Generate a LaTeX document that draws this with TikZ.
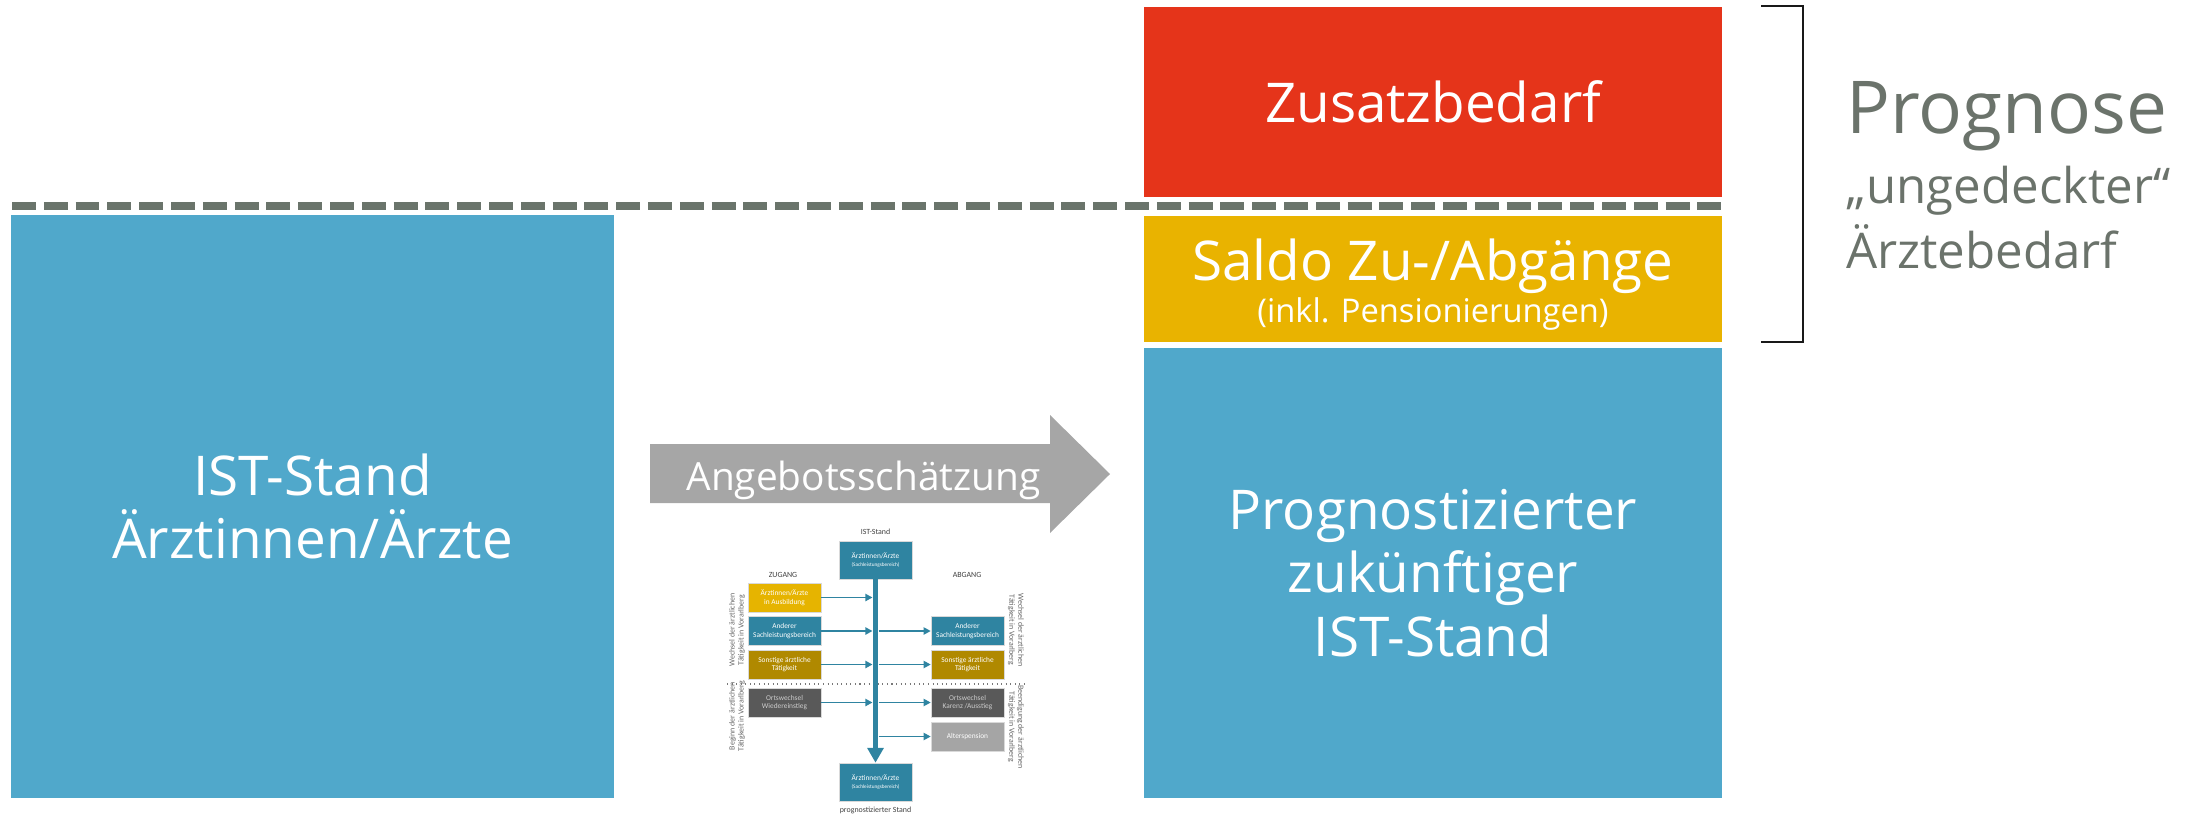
\documentclass[tikz,border=0pt]{standalone}
\usepackage{fontspec}
\setmainfont{Open Sans}
\newfontfamily\smallf{Carlito}
\usetikzlibrary{arrows.meta}
\definecolor{bigblue}{HTML}{50A8CB}
\definecolor{bigred}{HTML}{E5341A}
\definecolor{bigyellow}{HTML}{E9B300}
\definecolor{dashgray}{HTML}{6A746B}
\definecolor{textgray}{HTML}{6B736B}
\definecolor{arrowgray}{HTML}{A6A6A6}
\definecolor{steal}{HTML}{2F84A1}
\definecolor{syellow}{HTML}{E6B400}
\definecolor{sgold}{HTML}{B08900}
\definecolor{sdgray}{HTML}{595959}
\definecolor{slgray}{HTML}{A5A5A5}
\definecolor{slabel}{HTML}{404040}
\begin{document}
\begin{tikzpicture}[x=0.02cm,y=-0.02cm,
  bigbox/.style={draw=none,inner sep=0pt,text=white,align=center,
    font=\fontsize{31.2}{36}\selectfont},
  bigtext/.style={inner sep=0pt,text=white,anchor=base},
  dashline/.style={draw=dashgray,line width=4.5pt,dash pattern=on 13.6pt off 4.5pt},
  bracket/.style={draw=black!90,line width=1.5pt},
  sidetext/.style={inner sep=0pt,text=textgray,anchor=base west},
  sbox/.style={minimum width=1.46cm,minimum height=0.58cm,inner sep=0pt,align=center,
    text=white,draw=white!85!black,line width=0.3pt,
    font=\smallf\fontsize{4.2}{4.9}\selectfont},
  slbl/.style={inner sep=0pt,text=slabel,align=center,font=\smallf\fontsize{4.5}{5.3}\selectfont},
  rlbl/.style={inner sep=0pt,text=slabel!80,align=center,font=\smallf\fontsize{4.5}{5.1}\selectfont},
  spine/.style={draw=steal,line width=3.2pt,-{Triangle[width=9pt,length=8.5pt]}},
  sarrow/.style={draw=steal,line width=1.1pt,-{Triangle[width=4pt,length=4pt]}}
]
\useasboundingbox (0,0) rectangle (2203,815);

% big boxes
\node[bigbox,fill=bigblue,minimum width=12.06cm,minimum height=11.66cm] (ist) at (312.5,506.5)
  {IST-Stand\\Ärztinnen/Ärzte};
\node[bigbox,fill=bigred,minimum width=11.56cm,minimum height=3.8cm] (zusatz) at (1433,102)
  {Zusatzbedarf};
\node[bigbox,fill=bigyellow,minimum width=11.56cm,minimum height=2.52cm] (saldo) at (1433,279) {};
\node[bigtext,font=\fontsize{31.2}{36}\selectfont] (saldoA) at (1433,280) {Saldo Zu-/Abgänge};
\node[bigtext,font=\fontsize{18.6}{22}\selectfont] (saldoB) at (1433,322) {(inkl. Pensionierungen)};
\node[bigbox,fill=bigblue,minimum width=11.56cm,minimum height=9cm] (prog) at (1433,573)
  {Prognostizierter\\zukünftiger\\IST-Stand};

% dashed line
\coordinate (dl) at (12,206);
\coordinate (dr) at (1722,206);
\draw[dashline] (dl) -- (dr);

% bracket
\coordinate (b1) at (1761,6);
\coordinate (b2) at (1803,6);
\coordinate (b3) at (1803,342);
\coordinate (b4) at (1761,342);
\draw[bracket] (b1) -- (b2) -- (b3) -- (b4);

% side text
\node[sidetext,font=\fontsize{41.5}{48}\selectfont] (prognose) at (1846,133) {Prognose};
\node[sidetext,font=\fontsize{28}{36}\selectfont] (unged) at (1846,203) {„ungedeckter“};
\node[sidetext,font=\fontsize{28}{36}\selectfont] (bedarf) at (1846,268) {Ärztebedarf};

% big arrow
\fill[arrowgray] (650,444) -- (1050,444) -- (1050,415) -- (1110,474) -- (1050,533)
  -- (1050,503) -- (650,503) -- cycle;
\node[bigtext,font=\fontsize{22.1}{26}\selectfont] (angebot) at (863.5,490) {Angebotsschätzung};

% small diagram
\node[slbl] (istlbl) at (875.5,532) {IST-Stand};
\node[sbox,fill=steal,minimum height=0.76cm] (top) at (875.5,560)
  {Ärztinnen/Ärzte\\{\fontsize{3}{3.6}\selectfont(Sachleistungsbereich)}};
\node[sbox,fill=steal,minimum height=0.76cm] (bot) at (875.5,782)
  {Ärztinnen/Ärzte\\{\fontsize{3}{3.6}\selectfont(Sachleistungsbereich)}};
\node[slbl] (proglbl) at (875.5,810) {prognostizierter Stand};
\node[slbl] (zugang) at (783,575) {ZUGANG};
\node[slbl] (abgang) at (967,575) {ABGANG};

\node[sbox,fill=syellow] (l1) at (784.5,597.5) {Ärztinnen/Ärzte\\in Ausbildung};
\node[sbox,fill=steal] (l2) at (784.5,631) {Anderer\\Sachleistungsbereich};
\node[sbox,fill=sgold] (l3) at (784.5,664.5) {Sonstige ärztliche\\Tätigkeit};
\node[sbox,fill=sdgray,text=white!80!black] (l4) at (784.5,702.5) {Ortswechsel\\Wiedereinstieg};

\node[sbox,fill=steal] (r1) at (967.5,631) {Anderer\\Sachleistungsbereich};
\node[sbox,fill=sgold] (r2) at (967.5,664.5) {Sonstige ärztliche\\Tätigkeit};
\node[sbox,fill=sdgray,text=white!80!black] (r3) at (967.5,702.5) {Ortswechsel\\Karenz /Ausstieg};
\node[sbox,fill=slgray] (r4) at (967.5,736.5) {Alterspension};

\coordinate (sepL) at (727,684);
\coordinate (sepR) at (1027,684);
\draw[dotted,draw=slabel!70,line width=0.6pt] (sepL) -- (sepR);

\draw[spine] (top.south) -- (bot.north);
\foreach \n in {l1,l2,l3,l4}
  \draw[sarrow,shorten >=1.7pt] (\n.east) -- (\n.east -| top.south);
\foreach \n in {r1,r2,r3,r4}
  \draw[sarrow,shorten <=1.7pt] (\n.west -| top.south) -- (\n.west);

\node[rlbl,rotate=90] (lw) at (737,630) {Wechsel der ärztlichen\\Tätigkeit in Vorarlberg};
\node[rlbl,rotate=90] (lb) at (737,716) {Beginn der ärztlichen\\Tätigkeit in Vorarlberg};
\node[rlbl,rotate=-90] (rw) at (1016,630) {Wechsel der ärztlichen\\Tätigkeit in Vorarlberg};
\node[rlbl,rotate=-90] (rb) at (1016,727) {Beendigung der ärztlichen\\Tätigkeit in Vorarlberg};
\end{tikzpicture}
\end{document}
